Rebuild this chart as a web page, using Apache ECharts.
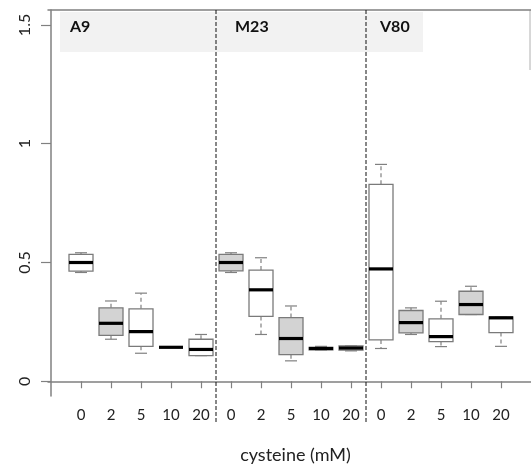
<!DOCTYPE html>
<html>
<head>
<meta charset="utf-8">
<script src="https://cdn.jsdelivr.net/npm/echarts@6/dist/echarts.min.js"></script>
<style>
  html, body { margin: 0; padding: 0; background: #fff; }
  #chart { width: 531px; height: 470px; }
</style>
</head>
<body>
<div id="chart"></div>
<script>
// strains and doses
var strains = ['A9', 'M23', 'V80']
var doses = ['0', '2', '5', '10', '20']
var yTicks = [0, 0.5, 1, 1.5]

// box stats, one per position (A9 0..20, M23 0..20, V80 0..20)
var lowWhisker = [0.458, 0.177, 0.118, 0.143, 0.108, 0.458, 0.197, 0.086, 0.132, 0.128, 0.138, 0.197, 0.146, 0.281, 0.147]
var q1 = [0.464, 0.193, 0.147, 0.143, 0.108, 0.465, 0.273, 0.112, 0.132, 0.131, 0.174, 0.204, 0.167, 0.281, 0.205]
var median = [0.500, 0.244, 0.209, 0.143, 0.134, 0.500, 0.385, 0.180, 0.138, 0.140, 0.473, 0.247, 0.188, 0.323, 0.267]
var q3 = [0.534, 0.309, 0.305, 0.143, 0.177, 0.534, 0.468, 0.268, 0.143, 0.149, 0.829, 0.298, 0.263, 0.379, 0.271]
var highWhisker = [0.541, 0.338, 0.371, 0.143, 0.197, 0.541, 0.520, 0.317, 0.147, 0.149, 0.913, 0.309, 0.337, 0.400, 0.271]

var yMin = -0.062
var yMax = 1.563
var font = 'Lato, "Open Sans", sans-serif'

var positions = []
var boxData = []
for (var i = 0; i < median.length; i++) {
  positions.push(i + 1)
  boxData.push([i + 1, lowWhisker[i], q1[i], median[i], q3[i], highWhisker[i]])
}
// dashed separators between strains
var separators = [[5.5], [10.5]]

function renderBox(params, api) {
  var x = api.value(0)
  var lo = api.coord([x, api.value(1)])
  var b1 = api.coord([x, api.value(2)])
  var m = api.coord([x, api.value(3)])
  var b3 = api.coord([x, api.value(4)])
  var hi = api.coord([x, api.value(5)])
  var w = api.size([1, 0])[0] * 0.8
  var cx = lo[0]
  var cap = w / 4
  var fill = params.dataIndex % 2 === 1 ? '#d3d3d3' : '#ffffff'
  var wStyle = { stroke: '#808080', lineWidth: 1.2, lineDash: [4, 3] }
  var cStyle = { stroke: '#808080', lineWidth: 1.2 }
  return {
    type: 'group',
    children: [
      { type: 'line', shape: { x1: cx, y1: b3[1], x2: cx, y2: hi[1] }, style: wStyle },
      { type: 'line', shape: { x1: cx, y1: b1[1], x2: cx, y2: lo[1] }, style: wStyle },
      { type: 'line', shape: { x1: cx - cap, y1: hi[1], x2: cx + cap, y2: hi[1] }, style: cStyle },
      { type: 'line', shape: { x1: cx - cap, y1: lo[1], x2: cx + cap, y2: lo[1] }, style: cStyle },
      { type: 'rect', shape: { x: cx - w / 2, y: b3[1], width: w, height: b1[1] - b3[1] },
        style: { fill: fill, stroke: '#7a7a7a', lineWidth: 1.3 } },
      { type: 'line', shape: { x1: cx - w / 2, y1: m[1], x2: cx + w / 2, y2: m[1] },
        style: { stroke: '#000', lineWidth: 3.2 } }
    ]
  }
}

function renderSep(params, api) {
  var top = api.coord([api.value(0), yMax])
  var bot = api.coord([api.value(0), yMin])
  return {
    type: 'line',
    shape: { x1: top[0], y1: top[1], x2: bot[0], y2: bot[1] + 27 },
    style: { stroke: '#111', lineWidth: 1, lineDash: [4, 2] }
  }
}

var chart = echarts.init(document.getElementById('chart'))
var option = {
  animation: false,
  backgroundColor: '#fff',
  grid: { left: 48, right: 0, top: 10, bottom: 74 },
  xAxis: [{
    type: 'value',
    min: -0.1,
    max: 16,
    splitLine: { show: false },
    axisLine: { show: true, lineStyle: { color: '#808080', width: 1.5 } },
    axisTick: { show: true, customValues: positions, length: 7, lineStyle: { color: '#808080', width: 1.2 } },
    axisLabel: {
      customValues: positions,
      margin: 12,
      color: '#222',
      fontSize: 15,
      fontFamily: font,
      formatter: function (v) { return doses[(Math.round(v) - 1) % 5] }
    },
    name: 'cysteine (mM)',
    nameLocation: 'middle',
    nameGap: 50,
    nameTextStyle: { color: '#222', fontSize: 18, fontFamily: font, padding: [0, 0, 0, 12] }
  }, {
    type: 'value',
    position: 'top',
    min: -0.1,
    max: 16,
    splitLine: { show: false },
    axisLine: { show: true, onZero: false, lineStyle: { color: '#808080', width: 1.5 } },
    axisTick: { show: false },
    axisLabel: { show: false }
  }],
  yAxis: {
    type: 'value',
    min: yMin,
    max: yMax,
    splitLine: { show: false },
    axisLine: { show: true, lineStyle: { color: '#808080', width: 1.5 } },
    axisTick: { show: true, customValues: yTicks, length: 10, lineStyle: { color: '#808080', width: 1.2 } },
    axisLabel: {
      customValues: yTicks,
      rotate: 90,
      margin: 15,
      color: '#222',
      fontSize: 16,
      fontFamily: font
    }
  },
  graphic: [
    { type: 'rect', z: -1, shape: { x: 60, y: 12, width: 363, height: 40 }, style: { fill: '#f2f2f2' } },
    { type: 'line', shape: { x1: 530, y1: 10, x2: 530, y2: 70 }, style: { stroke: '#b0b0b0', lineWidth: 1 } },
    { type: 'text', left: 70, top: 19, style: { text: strains[0], fontSize: 16, fontWeight: 'bold', fontFamily: font, fill: '#111' } },
    { type: 'text', left: 235, top: 19, style: { text: strains[1], fontSize: 16, fontWeight: 'bold', fontFamily: font, fill: '#111' } },
    { type: 'text', left: 380, top: 19, style: { text: strains[2], fontSize: 16, fontWeight: 'bold', fontFamily: font, fill: '#111' } }
  ],
  series: [{
    type: 'custom',
    renderItem: renderSep,
    data: separators,
    clip: false,
    silent: true
  }, {
    type: 'custom',
    renderItem: renderBox,
    data: boxData,
    encode: { x: 0, y: [1, 2, 3, 4, 5] },
    silent: true
  }]
}
chart.setOption(option)
window.addEventListener('resize', function () { chart.resize() })
</script>
</body>
</html>
